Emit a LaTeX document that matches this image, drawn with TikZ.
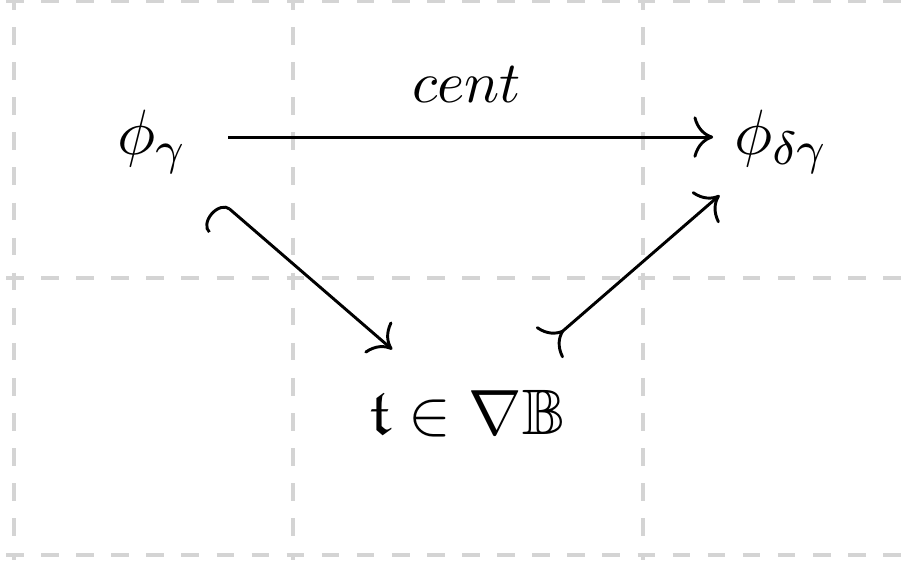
\documentclass[tikz,border=0pt]{standalone}
\usepackage{amssymb}
\usetikzlibrary{arrows.meta}
\begin{document}
\begin{tikzpicture}[x=0.171pt,y=-0.171pt,
  gridline/.style={draw=black!17, line width=0.6pt, dash pattern=on 3pt off 3pt},
  obj/.style={inner sep=0pt, font=\fontsize{11}{13}\selectfont},
  tiphead/.style={-{Computer Modern Rightarrow[scale=1.25]}},
  cdarrow/.style={line width=0.5pt, tiphead},
  hookarrow/.style={line width=0.5pt, {Hooks[arc=180,left,width=11pt,length=2pt]}-{Computer Modern Rightarrow[scale=1.25]}},
  tailarrow/.style={line width=0.5pt, {Computer Modern Rightarrow[reversed,scale=1.25]}-{Computer Modern Rightarrow[scale=1.25]}}]
\useasboundingbox (0,0) rectangle (912,562);
\begin{scope}
\clip (0,0) rectangle (912,562);
\foreach \x in {14,293,643} \draw[gridline] (\x,-8) -- (\x,560);
\foreach \y in {1,278,555} \draw[gridline] (6,\y) -- (920,\y);
\end{scope}
\node[obj] (A) at (152,142) {$\phi_\gamma$};
\node[obj] (B) at (781,142) {$\phi_{\delta\gamma}$};
\node[obj] (C) at (467,414) {$\mathfrak{t}\in\nabla\mathbb{B}$};
\draw[cdarrow, shorten <=13pt, shorten >=11.6pt] ([yshift=0.85pt]A.center) -- node[midway, above=2.4pt] (L) {$cent$} ([yshift=0.85pt]B.center);
\draw[hookarrow, shorten <=15.5pt, shorten >=16.9pt] (A.center) -- (C.center);
\draw[tailarrow, shorten <=18.5pt, shorten >=13.9pt] (C.center) -- (B.center);
\end{tikzpicture}
\end{document}
